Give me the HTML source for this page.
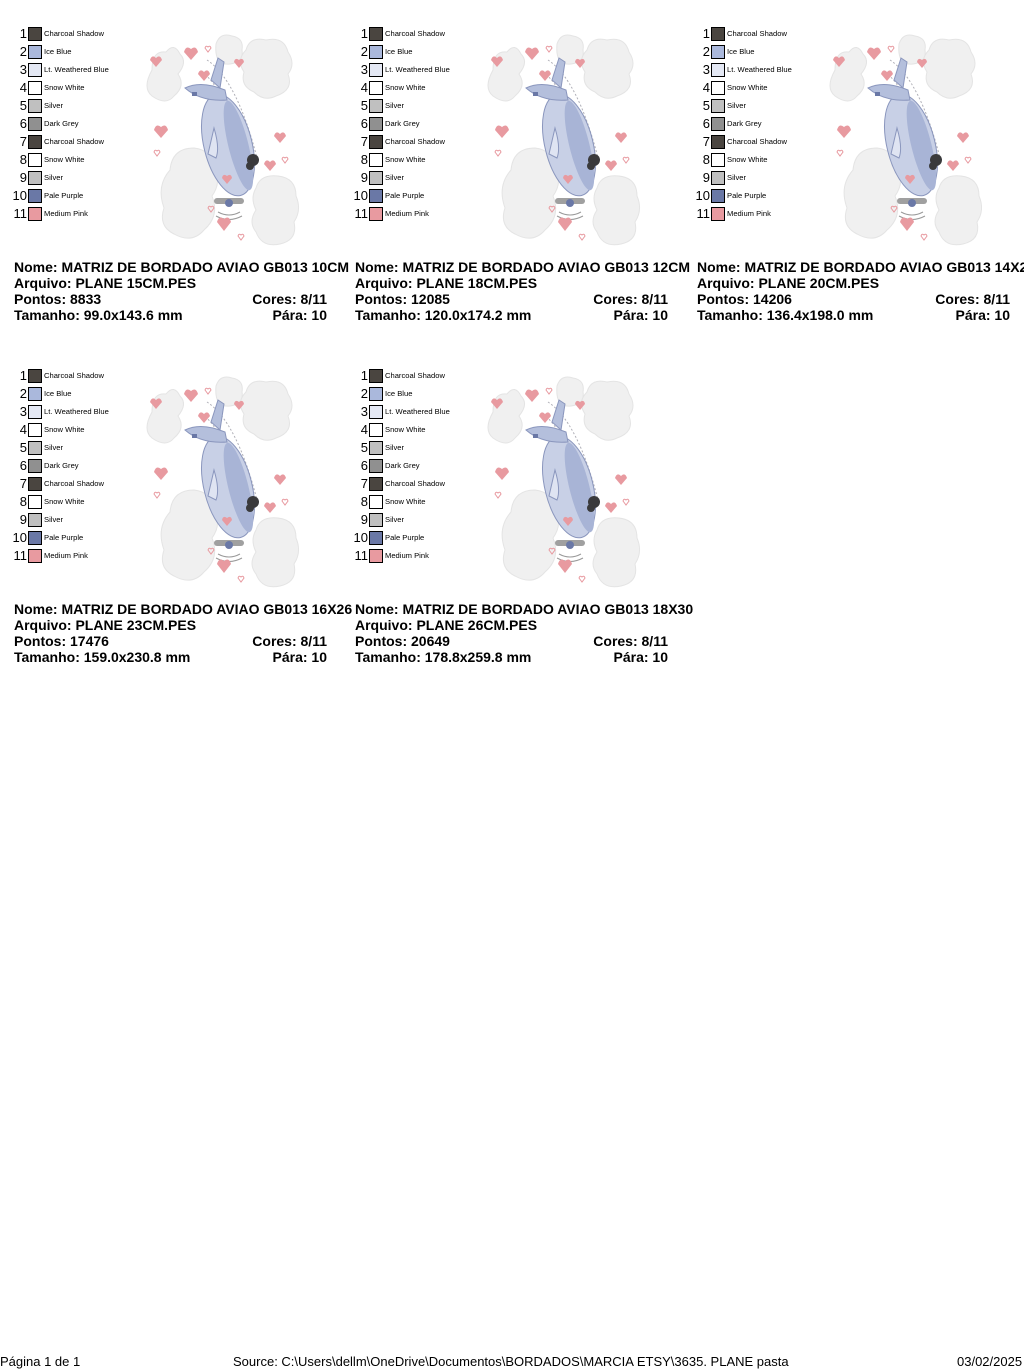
<!DOCTYPE html>
<html><head><meta charset="utf-8"><style>
html,body{margin:0;padding:0;background:#fff;width:1024px;height:1370px;overflow:hidden;position:relative;font-family:"Liberation Sans",Arial,sans-serif;}
.p{position:absolute;width:341px;height:342px;}
.n{position:absolute;width:27px;text-align:right;font-size:13px;line-height:14px;color:#000;}
.s{position:absolute;left:28px;width:12px;height:12px;border:1px solid #000;}
.l{position:absolute;left:44px;font-size:7.6px;line-height:10px;color:#000;white-space:nowrap;}
.t{position:absolute;font-weight:bold;font-size:14px;line-height:16px;white-space:nowrap;color:#000;background:#fff;}
.r{text-align:right;background:transparent;}
svg.art{position:absolute;left:0;top:0;}
.f{position:absolute;top:1354px;font-size:13px;line-height:16px;white-space:nowrap;}
</style></head><body>
<svg width="0" height="0" style="position:absolute">
<defs>
<g id="art">
 <g fill="#f0f0f0" stroke="#e4e4e4" stroke-width="1">
  <path d="M152 70 q0-20 14-18 q8-10 14 2 q8 8 -2 20 q8 12 -4 22 q-8 10 -22 0 q-10-8 0-26z"/>
  <path d="M216 44 q4-12 16-8 q12 2 10 14 q2 12-12 14 q-16 2-14-20z"/>
  <path d="M246 50 q4-14 20-10 q18-4 22 12 q8 12 0 22 q6 16-12 22 q-12 6-22-4 q-14-6-10-20 q-8-12 2-22z"/>
  <path d="M170 170 q2-22 24-22 q18 2 20 20 q8 14-2 28 q8 20-8 34 q-12 14-30 4 q-16-8-10-26 q-8-22 6-38z"/>
  <path d="M256 188 q4-14 22-12 q18 2 18 20 q6 14-2 26 q4 18-14 22 q-18 4-24-12 q-8-10 0-22 q-6-12 0-22z"/>
 </g>
 <path d="M207 60 q30 20 50 98" fill="none" stroke="#b0b0b8" stroke-dasharray="2 2"/>
 <path d="M202 72 q25 18 40 90" fill="none" stroke="#b0b0b8" stroke-dasharray="2 2"/>
 <g transform="rotate(-14 228 145)">
  <ellipse cx="228" cy="145" rx="24" ry="52" fill="#c8d0e6" stroke="#8a96bd"/>
  <ellipse cx="238" cy="148" rx="10" ry="46" fill="#a8b4d6"/>
 </g>
 <path d="M185 88 q16-8 40 2 l2 10 q-26 2-42-12z" fill="#b4bfdc" stroke="#8a96bd"/>
 <path d="M211 80 l7-22 l6 4 l-4 26z" fill="#b4bfdc" stroke="#8a96bd"/>
 <rect x="192" y="92" width="5" height="4" fill="#6a78a6"/>
 <path d="M214 128 q6 20 2 30 l-8-4z" fill="#dfe4f2" stroke="#8a96bd"/>
 <circle cx="253" cy="160" r="6" fill="#3a3a3c"/><circle cx="250" cy="166" r="4" fill="#3a3a3c"/>
 <rect x="214" y="198" width="30" height="6" rx="3" fill="#a0a0a0"/>
 <circle cx="229" cy="203" r="4" fill="#6a78a6"/>
 <path d="M218 212 q11 6 22 0 M216 216 q13 7 26 0" fill="none" stroke="#999"/>
 <g fill="#e89aa0">
  <path d="M150 60 l6 7 l6-7 q-2-6-6-2 q-4-4-6 2z"/>
  <path d="M184 52 l7 8 l7-8 q-2-7-7-3 q-5-4-7 3z"/>
  <path d="M198 74 l6 7 l6-7 q-2-6-6-2 q-4-4-6 2z"/>
  <path d="M234 62 l5 6 l5-6 q-1-5-5-2 q-4-3-5 2z"/>
  <path d="M154 130 l7 8 l7-8 q-2-7-7-3 q-5-4-7 3z"/>
  <path d="M274 136 l6 7 l6-7 q-2-6-6-2 q-4-4-6 2z"/>
  <path d="M264 164 l6 7 l6-7 q-2-6-6-2 q-4-4-6 2z"/>
  <path d="M222 178 l5 6 l5-6 q-1-5-5-2 q-4-3-5 2z"/>
  <path d="M217 222 l7 9 l7-9 q-2-7-7-3 q-5-4-7 3z"/>
 </g>
 <g fill="none" stroke="#e89aa0">
  <path d="M205 48 l3 4 l3-4 q-1-3-3-1 q-2-2-3 1z"/>
  <path d="M154 152 l3 4 l3-4 q-1-3-3-1 q-2-2-3 1z"/>
  <path d="M282 159 l3 4 l3-4 q-1-3-3-1 q-2-2-3 1z"/>
  <path d="M208 208 l3 4 l3-4 q-1-3-3-1 q-2-2-3 1z"/>
  <path d="M238 236 l3 4 l3-4 q-1-3-3-1 q-2-2-3 1z"/>
 </g>
</g>
</defs></svg>

<div class="p" style="left:0;top:0">
<svg class="art" width="341" height="260"><use href="#art"/></svg>
<div class="n" style="top:27px">1</div><div class="s" style="top:27px;background:#4a4540"></div><div class="l" style="top:29px">Charcoal Shadow</div>
<div class="n" style="top:45px">2</div><div class="s" style="top:45px;background:#aab8dc"></div><div class="l" style="top:47px">Ice Blue</div>
<div class="n" style="top:63px">3</div><div class="s" style="top:63px;background:#e4e8f4"></div><div class="l" style="top:65px">Lt. Weathered Blue</div>
<div class="n" style="top:81px">4</div><div class="s" style="top:81px;background:#fff"></div><div class="l" style="top:83px">Snow White</div>
<div class="n" style="top:99px">5</div><div class="s" style="top:99px;background:#c0c0c0"></div><div class="l" style="top:101px">Silver</div>
<div class="n" style="top:117px">6</div><div class="s" style="top:117px;background:#909090"></div><div class="l" style="top:119px">Dark Grey</div>
<div class="n" style="top:135px">7</div><div class="s" style="top:135px;background:#4a4540"></div><div class="l" style="top:137px">Charcoal Shadow</div>
<div class="n" style="top:153px">8</div><div class="s" style="top:153px;background:#fff"></div><div class="l" style="top:155px">Snow White</div>
<div class="n" style="top:171px">9</div><div class="s" style="top:171px;background:#c0c0c0"></div><div class="l" style="top:173px">Silver</div>
<div class="n" style="top:189px">10</div><div class="s" style="top:189px;background:#6a78a6"></div><div class="l" style="top:191px">Pale Purple</div>
<div class="n" style="top:207px">11</div><div class="s" style="top:207px;background:#e89aa0"></div><div class="l" style="top:209px">Medium Pink</div>
<div class="t" style="left:14px;top:259px">Nome: MATRIZ DE BORDADO AVIAO GB013 10CM</div>
<div class="t" style="left:14px;top:275px">Arquivo: PLANE 15CM.PES</div>
<div class="t" style="left:14px;top:291px">Pontos: 8833</div>
<div class="t r" style="left:200px;width:127px;top:291px">Cores: 8/11</div>
<div class="t" style="left:14px;top:307px">Tamanho: 99.0x143.6 mm</div>
<div class="t r" style="left:200px;width:127px;top:307px">Pára: 10</div>
</div>

<div class="p" style="left:341px;top:0">
<svg class="art" width="341" height="260"><use href="#art"/></svg>
<div class="n" style="top:27px">1</div><div class="s" style="top:27px;background:#4a4540"></div><div class="l" style="top:29px">Charcoal Shadow</div>
<div class="n" style="top:45px">2</div><div class="s" style="top:45px;background:#aab8dc"></div><div class="l" style="top:47px">Ice Blue</div>
<div class="n" style="top:63px">3</div><div class="s" style="top:63px;background:#e4e8f4"></div><div class="l" style="top:65px">Lt. Weathered Blue</div>
<div class="n" style="top:81px">4</div><div class="s" style="top:81px;background:#fff"></div><div class="l" style="top:83px">Snow White</div>
<div class="n" style="top:99px">5</div><div class="s" style="top:99px;background:#c0c0c0"></div><div class="l" style="top:101px">Silver</div>
<div class="n" style="top:117px">6</div><div class="s" style="top:117px;background:#909090"></div><div class="l" style="top:119px">Dark Grey</div>
<div class="n" style="top:135px">7</div><div class="s" style="top:135px;background:#4a4540"></div><div class="l" style="top:137px">Charcoal Shadow</div>
<div class="n" style="top:153px">8</div><div class="s" style="top:153px;background:#fff"></div><div class="l" style="top:155px">Snow White</div>
<div class="n" style="top:171px">9</div><div class="s" style="top:171px;background:#c0c0c0"></div><div class="l" style="top:173px">Silver</div>
<div class="n" style="top:189px">10</div><div class="s" style="top:189px;background:#6a78a6"></div><div class="l" style="top:191px">Pale Purple</div>
<div class="n" style="top:207px">11</div><div class="s" style="top:207px;background:#e89aa0"></div><div class="l" style="top:209px">Medium Pink</div>
<div class="t" style="left:14px;top:259px">Nome: MATRIZ DE BORDADO AVIAO GB013 12CM</div>
<div class="t" style="left:14px;top:275px">Arquivo: PLANE 18CM.PES</div>
<div class="t" style="left:14px;top:291px">Pontos: 12085</div>
<div class="t r" style="left:200px;width:127px;top:291px">Cores: 8/11</div>
<div class="t" style="left:14px;top:307px">Tamanho: 120.0x174.2 mm</div>
<div class="t r" style="left:200px;width:127px;top:307px">Pára: 10</div>
</div>

<div class="p" style="left:683px;top:0">
<svg class="art" width="341" height="260"><use href="#art"/></svg>
<div class="n" style="top:27px">1</div><div class="s" style="top:27px;background:#4a4540"></div><div class="l" style="top:29px">Charcoal Shadow</div>
<div class="n" style="top:45px">2</div><div class="s" style="top:45px;background:#aab8dc"></div><div class="l" style="top:47px">Ice Blue</div>
<div class="n" style="top:63px">3</div><div class="s" style="top:63px;background:#e4e8f4"></div><div class="l" style="top:65px">Lt. Weathered Blue</div>
<div class="n" style="top:81px">4</div><div class="s" style="top:81px;background:#fff"></div><div class="l" style="top:83px">Snow White</div>
<div class="n" style="top:99px">5</div><div class="s" style="top:99px;background:#c0c0c0"></div><div class="l" style="top:101px">Silver</div>
<div class="n" style="top:117px">6</div><div class="s" style="top:117px;background:#909090"></div><div class="l" style="top:119px">Dark Grey</div>
<div class="n" style="top:135px">7</div><div class="s" style="top:135px;background:#4a4540"></div><div class="l" style="top:137px">Charcoal Shadow</div>
<div class="n" style="top:153px">8</div><div class="s" style="top:153px;background:#fff"></div><div class="l" style="top:155px">Snow White</div>
<div class="n" style="top:171px">9</div><div class="s" style="top:171px;background:#c0c0c0"></div><div class="l" style="top:173px">Silver</div>
<div class="n" style="top:189px">10</div><div class="s" style="top:189px;background:#6a78a6"></div><div class="l" style="top:191px">Pale Purple</div>
<div class="n" style="top:207px">11</div><div class="s" style="top:207px;background:#e89aa0"></div><div class="l" style="top:209px">Medium Pink</div>
<div class="t" style="left:14px;top:259px">Nome: MATRIZ DE BORDADO AVIAO GB013 14X20</div>
<div class="t" style="left:14px;top:275px">Arquivo: PLANE 20CM.PES</div>
<div class="t" style="left:14px;top:291px">Pontos: 14206</div>
<div class="t r" style="left:200px;width:127px;top:291px">Cores: 8/11</div>
<div class="t" style="left:14px;top:307px">Tamanho: 136.4x198.0 mm</div>
<div class="t r" style="left:200px;width:127px;top:307px">Pára: 10</div>
</div>

<div class="p" style="left:0;top:342px">
<svg class="art" width="341" height="260"><use href="#art"/></svg>
<div class="n" style="top:27px">1</div><div class="s" style="top:27px;background:#4a4540"></div><div class="l" style="top:29px">Charcoal Shadow</div>
<div class="n" style="top:45px">2</div><div class="s" style="top:45px;background:#aab8dc"></div><div class="l" style="top:47px">Ice Blue</div>
<div class="n" style="top:63px">3</div><div class="s" style="top:63px;background:#e4e8f4"></div><div class="l" style="top:65px">Lt. Weathered Blue</div>
<div class="n" style="top:81px">4</div><div class="s" style="top:81px;background:#fff"></div><div class="l" style="top:83px">Snow White</div>
<div class="n" style="top:99px">5</div><div class="s" style="top:99px;background:#c0c0c0"></div><div class="l" style="top:101px">Silver</div>
<div class="n" style="top:117px">6</div><div class="s" style="top:117px;background:#909090"></div><div class="l" style="top:119px">Dark Grey</div>
<div class="n" style="top:135px">7</div><div class="s" style="top:135px;background:#4a4540"></div><div class="l" style="top:137px">Charcoal Shadow</div>
<div class="n" style="top:153px">8</div><div class="s" style="top:153px;background:#fff"></div><div class="l" style="top:155px">Snow White</div>
<div class="n" style="top:171px">9</div><div class="s" style="top:171px;background:#c0c0c0"></div><div class="l" style="top:173px">Silver</div>
<div class="n" style="top:189px">10</div><div class="s" style="top:189px;background:#6a78a6"></div><div class="l" style="top:191px">Pale Purple</div>
<div class="n" style="top:207px">11</div><div class="s" style="top:207px;background:#e89aa0"></div><div class="l" style="top:209px">Medium Pink</div>
<div class="t" style="left:14px;top:259px">Nome: MATRIZ DE BORDADO AVIAO GB013 16X26</div>
<div class="t" style="left:14px;top:275px">Arquivo: PLANE 23CM.PES</div>
<div class="t" style="left:14px;top:291px">Pontos: 17476</div>
<div class="t r" style="left:200px;width:127px;top:291px">Cores: 8/11</div>
<div class="t" style="left:14px;top:307px">Tamanho: 159.0x230.8 mm</div>
<div class="t r" style="left:200px;width:127px;top:307px">Pára: 10</div>
</div>

<div class="p" style="left:341px;top:342px">
<svg class="art" width="341" height="260"><use href="#art"/></svg>
<div class="n" style="top:27px">1</div><div class="s" style="top:27px;background:#4a4540"></div><div class="l" style="top:29px">Charcoal Shadow</div>
<div class="n" style="top:45px">2</div><div class="s" style="top:45px;background:#aab8dc"></div><div class="l" style="top:47px">Ice Blue</div>
<div class="n" style="top:63px">3</div><div class="s" style="top:63px;background:#e4e8f4"></div><div class="l" style="top:65px">Lt. Weathered Blue</div>
<div class="n" style="top:81px">4</div><div class="s" style="top:81px;background:#fff"></div><div class="l" style="top:83px">Snow White</div>
<div class="n" style="top:99px">5</div><div class="s" style="top:99px;background:#c0c0c0"></div><div class="l" style="top:101px">Silver</div>
<div class="n" style="top:117px">6</div><div class="s" style="top:117px;background:#909090"></div><div class="l" style="top:119px">Dark Grey</div>
<div class="n" style="top:135px">7</div><div class="s" style="top:135px;background:#4a4540"></div><div class="l" style="top:137px">Charcoal Shadow</div>
<div class="n" style="top:153px">8</div><div class="s" style="top:153px;background:#fff"></div><div class="l" style="top:155px">Snow White</div>
<div class="n" style="top:171px">9</div><div class="s" style="top:171px;background:#c0c0c0"></div><div class="l" style="top:173px">Silver</div>
<div class="n" style="top:189px">10</div><div class="s" style="top:189px;background:#6a78a6"></div><div class="l" style="top:191px">Pale Purple</div>
<div class="n" style="top:207px">11</div><div class="s" style="top:207px;background:#e89aa0"></div><div class="l" style="top:209px">Medium Pink</div>
<div class="t" style="left:14px;top:259px">Nome: MATRIZ DE BORDADO AVIAO GB013 18X30</div>
<div class="t" style="left:14px;top:275px">Arquivo: PLANE 26CM.PES</div>
<div class="t" style="left:14px;top:291px">Pontos: 20649</div>
<div class="t r" style="left:200px;width:127px;top:291px">Cores: 8/11</div>
<div class="t" style="left:14px;top:307px">Tamanho: 178.8x259.8 mm</div>
<div class="t r" style="left:200px;width:127px;top:307px">Pára: 10</div>
</div>

<div class="f" style="left:0">Página 1 de 1</div>
<div class="f" style="left:233px">Source: C:\Users\dellm\OneDrive\Documentos\BORDADOS\MARCIA ETSY\3635. PLANE pasta</div>
<div class="f" style="left:957px">03/02/2025</div>
</body></html>
